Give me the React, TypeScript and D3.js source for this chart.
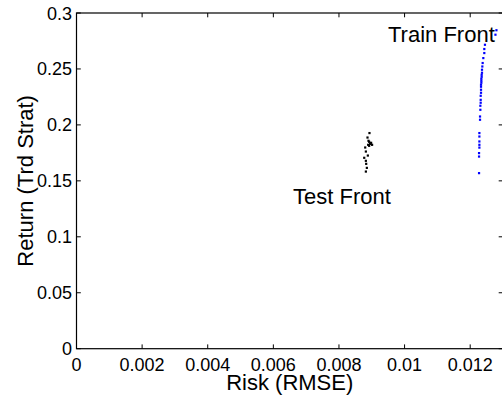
import React from "react";
import * as d3 from "d3";

const xTicks = [0, 0.002, 0.004, 0.006, 0.008, 0.01, 0.012];
const yTicks = [0, 0.05, 0.1, 0.15, 0.2, 0.25, 0.3];
const xTickLabels = ["0", "0.002", "0.004", "0.006", "0.008", "0.01", "0.012"];
const yTickLabels = ["0", "0.05", "0.1", "0.15", "0.2", "0.25", "0.3"];

const testX = [0.00893, 0.00887, 0.00892, 0.00895, 0.00889, 0.00898, 0.00892, 0.00901, 0.0088, 0.00882, 0.00888, 0.00877, 0.00882, 0.00883, 0.00885, 0.00882, 0.00896, 0.0089];
const testY = [0.1927, 0.1887, 0.1849, 0.1831, 0.1822, 0.184, 0.1813, 0.1822, 0.1798, 0.1762, 0.1726, 0.1706, 0.1679, 0.1652, 0.1616, 0.1583, 0.1835, 0.1858];

const trainX = [0.0128, 0.01277, 0.01245, 0.01243, 0.01243, 0.0124, 0.01238, 0.01237, 0.01236, 0.01236, 0.01235, 0.01235, 0.01234, 0.01234, 0.01234, 0.01233, 0.01233, 0.01233, 0.01233, 0.01232, 0.01232, 0.01232, 0.01231, 0.01231, 0.0123, 0.0123, 0.01228, 0.01228, 0.01228, 0.01228, 0.01227, 0.01227, 0.01227, 0.01228];
const trainY = [0.2846, 0.2806, 0.2716, 0.2678, 0.2642, 0.2597, 0.2553, 0.2522, 0.2493, 0.2466, 0.2448, 0.243, 0.2412, 0.2394, 0.2377, 0.2359, 0.2341, 0.2314, 0.2287, 0.226, 0.2224, 0.2198, 0.2171, 0.2135, 0.2075, 0.2046, 0.1927, 0.1896, 0.1852, 0.1822, 0.1748, 0.1717, 0.1569, 0.1797];

const W = 502;
const H = 396;
const left = 76.5;
const right = 503;
const top = 13;
const bottom = 348.7;

export default function App() {
  const x = d3.scaleLinear().domain([0, 0.013]).range([left, right]);
  const y = d3.scaleLinear().domain([0, 0.3]).range([bottom, top]);
  const font = "'Liberation Sans', Arial, Helvetica, sans-serif";
  const tl = 4.3;
  return (
    <svg width={W} height={H} style={{ position: "absolute", left: 0, top: 0, background: "#fff" }} fontFamily={font}>
      <rect x={0} y={0} width={W} height={H} fill="#fff" />
      {/* ticks */}
      {xTicks.map((t, i) => (
        <g key={"xt" + i}>
          <line x1={x(t)} x2={x(t)} y1={bottom} y2={bottom - tl} stroke="#000" strokeWidth={1} />
          <line x1={x(t)} x2={x(t)} y1={top} y2={top + tl} stroke="#000" strokeWidth={1} />
          <text x={x(t)} y={371} fontSize={18} textAnchor="middle" fill="#000">{xTickLabels[i]}</text>
        </g>
      ))}
      {yTicks.map((t, i) => (
        <g key={"yt" + i}>
          <line x1={left} x2={left + tl} y1={y(t)} y2={y(t)} stroke="#000" strokeWidth={1} />
          <line x1={right} x2={right - tl} y1={y(t)} y2={y(t)} stroke="#000" strokeWidth={1} />
          <text x={72} y={y(t) + 6.5} fontSize={18} textAnchor="end" fill="#000">{yTickLabels[i]}</text>
        </g>
      ))}
      <rect x={left} y={top} width={right - left} height={bottom - top} fill="none" stroke="#000" strokeWidth={1.2} />
      {testX.map((v, i) => (
        <rect key={"te" + i} x={x(v) - 1.1} y={y(testY[i]) - 1.1} width={2.2} height={2.2} fill="#000" />
      ))}
      {trainX.map((v, i) => (
        <rect key={"tr" + i} x={x(v) - 1.1} y={y(trainY[i]) - 1.1} width={2.2} height={2.2} fill="#0000ff" />
      ))}
      <text x={388} y={42} fontSize={22} fill="#000">Train Front</text>
      <text x={293} y={204} fontSize={22} fill="#000">Test Front</text>
      <text x={(left + right) / 2} y={389.5} fontSize={22} textAnchor="middle" fill="#000">Risk (RMSE)</text>
      <text transform={`translate(33, ${(top + bottom) / 2}) rotate(-90)`} fontSize={22} textAnchor="middle" fill="#000">Return (Trd Strat)</text>
    </svg>
  );
}
